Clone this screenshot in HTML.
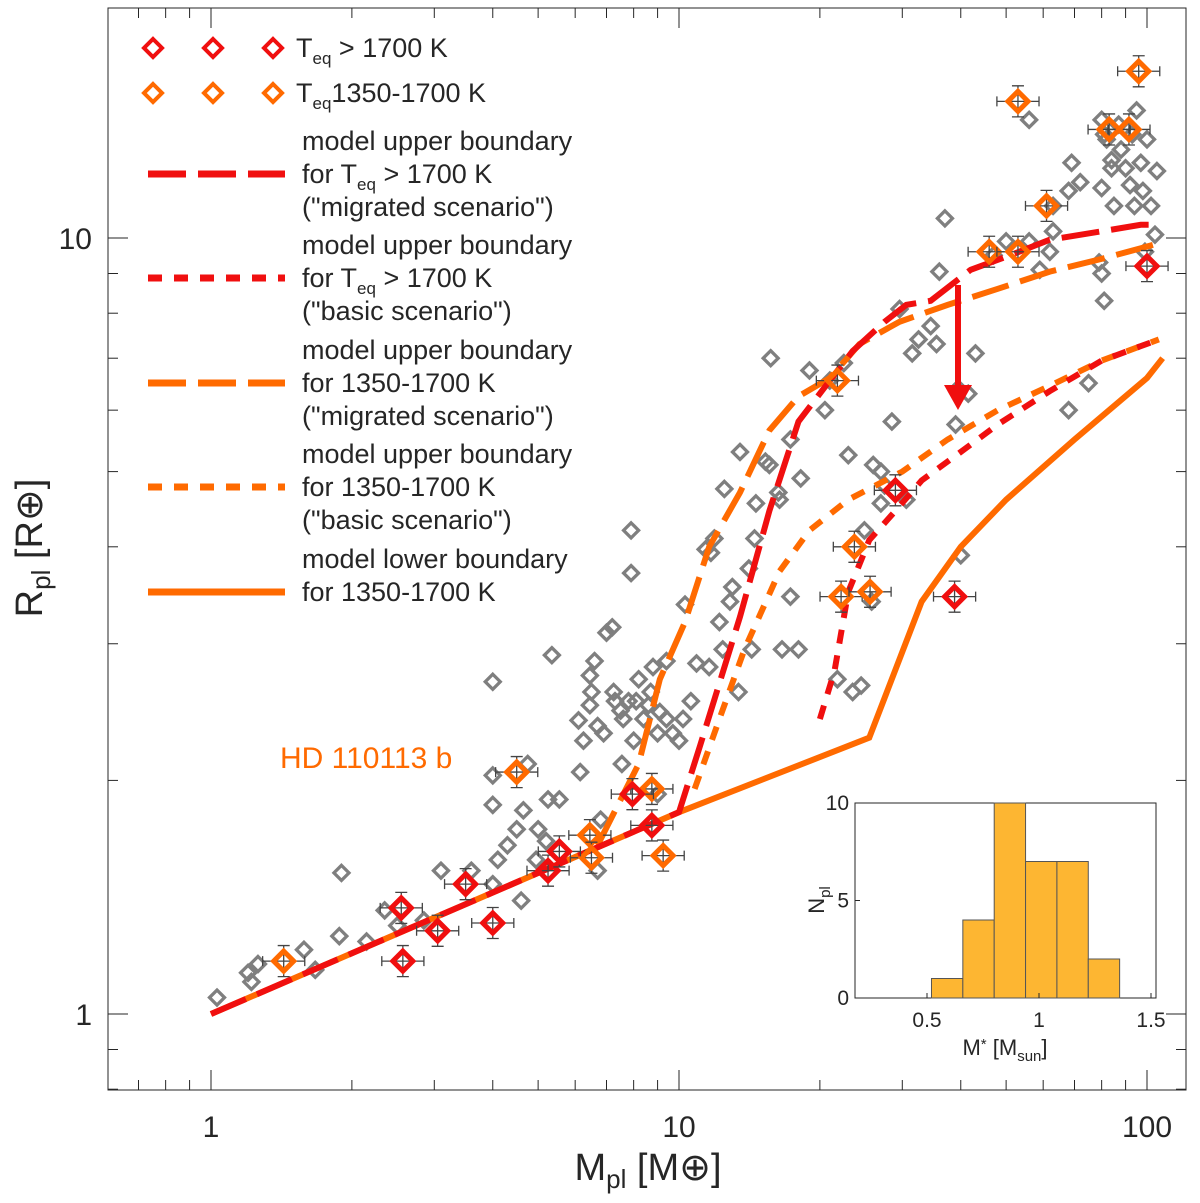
<!DOCTYPE html>
<html><head><meta charset="utf-8"><style>
body{margin:0;background:#fff;font-family:"Liberation Sans",sans-serif}
svg text{font-family:"Liberation Sans",sans-serif}
</style></head><body>
<svg id="c" width="1200" height="1198" xmlns="http://www.w3.org/2000/svg"></svg>
<script>
const grayM=[1.03,1.2,1.22,1.26,1.58,1.67,1.88,1.9,2.15,2.35,2.5,2.85,3.1,3.6,4,4,4,4.1,4.3,4.5,4.6,4.65,4.75,4,4.95,5,5.2,5.25,5.35,5.55,6.1,6.15,6.25,6.45,6.45,6.5,6.6,6.7,6.7,6.8,6.9,7,7.2,7.25,7.3,7.5,7.55,7.6,7.8,7.9,7.9,8,8.1,8.2,8.4,8.6,8.7,8.8,9,9,9.1,9.4,9.4,9.7,10,10.2,10.3,10.6,10.9,11.4,11.6,11.7,11.9,12.2,12.4,12.5,12.85,13,13.4,13.5,14.1,14.3,14.5,14.6,15.3,15.6,15.7,16.3,16.4,16.6,17.3,17.3,18,18.2,19,20.5,21,21.8,22.5,23,23.5,24.5,24.9,25.8,26,27,27,27.5,28.5,29.6,30.6,31.5,32.5,34.5,35.5,36,37,39,39.5,41.5,43,40,47,50,56,56,59,62,63,63,68,69,72,75,68,79,80,81,80,80,81,82,84,84,85,87,88,90,92,93,95,97,98,99,100,102,104,105,94];
const grayR=[1.05,1.13,1.1,1.16,1.21,1.14,1.26,1.52,1.24,1.36,1.3,1.32,1.53,1.53,1.47,1.86,2.03,1.58,1.65,1.73,1.4,1.83,2.1,2.68,1.58,1.73,1.67,1.89,2.9,1.89,2.39,2.05,2.25,2.5,2.73,2.6,2.85,2.35,1.53,1.78,2.3,3.1,3.15,2.6,2.53,2.46,2.1,2.4,2.53,4.2,3.7,2.25,2.53,2.7,2.4,2.5,2.6,2.8,1.92,2.3,2.45,2.85,2.4,2.3,2.25,2.4,3.37,2.53,2.83,3.97,2.8,3.93,4.1,3.2,2.95,4.75,3.4,3.55,2.6,5.3,3.75,2.95,4.1,4.55,5.15,5.1,7,4.7,4.6,2.95,5.5,3.45,2.95,4.9,6.75,6.0,6.55,2.7,6.9,5.25,2.6,2.65,4.2,3.4,5.1,5.0,4.55,4.8,5.8,8.1,4.6,7.1,7.4,7.7,7.3,9.05,10.6,5.75,6.4,6.3,7.1,3.9,9.5,9.9,14.2,9.9,9.1,9.6,10.2,11,11.5,12.5,11.8,6.5,6.0,9.3,9.0,8.3,14.2,11.6,13.6,13.4,12.3,12.6,11,14,13,12.3,11.7,13.6,14.6,12.5,11.5,9.6,13.4,11,10.1,12.2,11];
const hotM=[2.55,2.57,3.05,3.5,4,5.25,5.55,7.95,8.75,29,38.8,100];
const hotR=[1.37,1.17,1.28,1.47,1.31,1.53,1.62,1.92,1.75,4.73,3.45,9.2];
const warmM=[1.43,4.5,6.45,6.5,8.75,9.25,21.8,22.2,23.7,25.6,46,53,53,61,83,91.5,96];
const warmR=[1.17,2.05,1.7,1.59,1.95,1.6,6.55,3.45,4.0,3.5,9.6,15,9.6,11,13.8,13.8,16.4];
const lowM=[1,10,25.5,33,40,50,70,100,108];
const lowR=[1,1.82,2.27,3.4,4.0,4.6,5.5,6.6,7.0];
const redMigM=[1,10,11.1,13.5,15.6,18,21,23.5,27.5,30.6,34.5,42,51,62,80,97,103];
const redMigR=[1,1.82,2.22,3.25,4.45,5.8,6.55,7.15,7.8,8.2,8.3,9.1,9.5,9.95,10.2,10.4,10.4];
const orMigM=[6.7,8.2,9.1,10.3,11.6,13.5,15.6,18,21,24.3,29.6,37.5,48,62,80,97,103];
const orMigR=[1.65,2.1,2.7,3.2,4.0,4.7,5.65,6.25,6.6,7.3,7.8,8.2,8.6,9.05,9.4,9.7,9.8];
const redBasM=[20,21.5,23,25.5,29,33,40,48,62,80,106];
const redBasR=[2.4,2.77,3.5,4.08,4.45,4.87,5.3,5.75,6.35,6.95,7.4];
const orBasM=[10.8,12.2,13.8,16.4,19,23,30,37.5,48,62,80,106];
const orBasR=[1.95,2.4,2.95,3.72,4.2,4.6,5.0,5.5,6.0,6.45,6.95,7.4];
const histEdges=[0.52,0.66,0.80,0.94,1.08,1.22,1.36];
const histCounts=[1,4,10,7,7,2];
const xTicks=[1,10,100], yTicks=[1,10], hxTicks=[0.5,1,1.5], hyTicks=[0,5,10];

const S=document.getElementById('c'),NS='http://www.w3.org/2000/svg';
function mk(t,a,p){const e=document.createElementNS(NS,t);for(const k in a)e.setAttribute(k,a[k]);(p||S).appendChild(e);return e;}
const X=m=>211+468*Math.log10(m), Y=r=>1014-776*Math.log10(r);
const L=108,R=1186,T=8,B=1090;
let e=mk('rect',{x:L,y:T,width:R-L,height:B-T,fill:'none',stroke:'#262626','stroke-width':1});

for(let d=-1;d<=2;d++)for(let k=1;k<10;k++){const v=k*Math.pow(10,d);const x=X(v);if(x<L||x>R)continue;
 const len=k==1?20:10;mk('line',{x1:x,x2:x,y1:B,y2:B-len,stroke:'#262626'});mk('line',{x1:x,x2:x,y1:T,y2:T+len,stroke:'#262626'});}
for(let d=-1;d<=1;d++)for(let k=1;k<10;k++){const v=k*Math.pow(10,d);const y=Y(v);if(y<T||y>B)continue;
 const len=k==1?20:10;mk('line',{x1:L,x2:L+len,y1:y,y2:y,stroke:'#262626'});mk('line',{x1:R,x2:R-len,y1:y,y2:y,stroke:'#262626'});}
xTicks.forEach(v=>{const t=mk('text',{x:X(v),y:1137,'font-size':30,'text-anchor':'middle',fill:'#262626'});t.textContent=v;
 });
yTicks.forEach(v=>{const t=mk('text',{x:92,y:Y(v)+11,'font-size':30,'text-anchor':'end',fill:'#262626'});t.textContent=v;
 });
let t=mk('text',{x:648,y:1180,'font-size':38,'text-anchor':'middle',fill:'#262626'});
t.innerHTML='M<tspan font-size="26" dy="8">pl</tspan><tspan dy="-8"> [M</tspan><tspan>⊕</tspan>]';

t=mk('text',{x:0,y:0,'font-size':38,'text-anchor':'middle',fill:'#262626',transform:'translate(42,548) rotate(-90)'});
t.innerHTML='R<tspan font-size="26" dy="8">pl</tspan><tspan dy="-8"> [R</tspan><tspan>⊕</tspan>]';


function dia(cx,cy,s,col,w){return mk('polygon',{points:`${cx},${cy-s} ${cx+s},${cy} ${cx},${cy+s} ${cx-s},${cy}`,fill:'none',stroke:col,'stroke-width':w});}
grayM.forEach((m,i)=>{const d=dia(X(m),Y(grayR[i]),7.5,'#7f7f7f',3.3);
 });
function line(ms,rs,col,dash,name){const p=mk('polyline',{points:ms.map((m,i)=>X(m)+','+Y(rs[i])).join(' '),fill:'none',stroke:col,'stroke-width':6,'stroke-dasharray':dash});
 }
line(lowM,lowR,'#ff6a00','none','lower-boundary-line');
line(orBasM,orBasR,'#ff6a00','14 12','orange-basic-line');
line(redBasM,redBasR,'#f00f0f','14 12','red-basic-line');
line(orMigM,orMigR,'#ff6a00','38 12','orange-migrated-line');
line(redMigM,redMigR,'#f00f0f','38 12','red-migrated-line');
function colored(ms,rs,col,name){ms.forEach((m,i)=>{const x=X(m),y=Y(rs[i]);
 const ex=0.045*468,ey=0.02*776;
 mk('path',{d:`M${x-ex},${y}H${x+ex}M${x-ex},${y-5}V${y+5}M${x+ex},${y-5}V${y+5}M${x},${y-ey}V${y+ey}M${x-6},${y-ey}H${x+6}M${x-6},${y+ey}H${x+6}`,stroke:'#444','stroke-width':1.3,fill:'none'});
 const d=dia(x,y,10,col,5);});}
colored(warmM,warmR,'#ff6a00','warm-planet-point');
colored(hotM,hotR,'#f00f0f','hot-planet-point');
mk('line',{x1:958,y1:285,x2:958,y2:390,stroke:'#f00f0f','stroke-width':6});
e=mk('polygon',{points:'944,385 972,385 958,410',fill:'#f00f0f'});
t=mk('text',{x:280,y:768,'font-size':30,fill:'#ff6a00'});t.textContent='HD 110113 b';

const lg=mk('g',{});
[153,213,273].forEach(x=>dia(x,48,9,'#f00f0f',4));
[153,213,273].forEach(x=>dia(x,93,9,'#ff6a00',4));
t=mk('text',{x:296,y:57,'font-size':27,fill:'#262626'},lg);t.innerHTML='T<tspan font-size="17" dy="7">eq</tspan><tspan dy="-7"> &gt; 1700 K</tspan>';
t=mk('text',{x:296,y:102,'font-size':27,fill:'#262626'},lg);t.innerHTML='T<tspan font-size="17" dy="7">eq</tspan><tspan dy="-7">1350-1700 K</tspan>';
const ents=[[150,'#f00f0f','38 12',['model upper boundary','for T_eq > 1700 K','("migrated scenario")']],
[254,'#f00f0f','14 12',['model upper boundary','for T_eq > 1700 K','("basic scenario")']],
[359,'#ff6a00','38 12',['model upper boundary','for 1350-1700 K','("migrated scenario")']],
[463,'#ff6a00','14 12',['model upper boundary','for 1350-1700 K','("basic scenario")']],
[568,'#ff6a00','none',['model lower boundary','for 1350-1700 K']]];
ents.forEach(en=>{const y0=en[0];mk('line',{x1:148,x2:285,y1:y0+24,y2:y0+24,stroke:en[1],'stroke-width':7,'stroke-dasharray':en[2]},lg);
 en[3].forEach((s,i)=>{const tt=mk('text',{x:302,y:y0+i*33,'font-size':27,fill:'#262626'},lg);
  if(s.includes('T_eq'))tt.innerHTML='for T<tspan font-size="17" dy="7">eq</tspan><tspan dy="-7"> &gt; 1700 K</tspan>';else tt.textContent=s;});});
const ig=mk('g',{});
const hx=v=>927+224*(v-0.5), hy=v=>998-19.5*v;
mk('rect',{x:855,y:803,width:301,height:195,fill:'#fff',stroke:'#262626'},ig);
histCounts.forEach((c,i)=>{const b=mk('rect',{x:hx(histEdges[i]),y:hy(c),width:hx(histEdges[i+1])-hx(histEdges[i]),height:hy(0)-hy(c),fill:'#fdb632',stroke:'#555','stroke-width':1},ig);
 });
hxTicks.forEach(v=>{mk('line',{x1:hx(v),x2:hx(v),y1:998,y2:993,stroke:'#262626'},ig);
 const tt=mk('text',{x:hx(v),y:1027,'font-size':21,'text-anchor':'middle',fill:'#262626'},ig);tt.textContent=v;});
hyTicks.forEach(v=>{mk('line',{x1:855,x2:860,y1:hy(v),y2:hy(v),stroke:'#262626'},ig);
 const tt=mk('text',{x:849,y:hy(v)+7,'font-size':21,'text-anchor':'end',fill:'#262626'},ig);tt.textContent=v;});
t=mk('text',{x:1005,y:1055,'font-size':22,'text-anchor':'middle',fill:'#262626'},ig);t.innerHTML='M<tspan font-size="15" dy="-6">*</tspan><tspan dy="6"> [M</tspan><tspan font-size="15" dy="6">sun</tspan><tspan dy="-6">]</tspan>';
t=mk('text',{x:0,y:0,'font-size':22,'text-anchor':'middle',fill:'#262626',transform:'translate(824,900) rotate(-90)'},ig);t.innerHTML='N<tspan font-size="15" dy="6">pl</tspan>';
</script>
</body></html>
